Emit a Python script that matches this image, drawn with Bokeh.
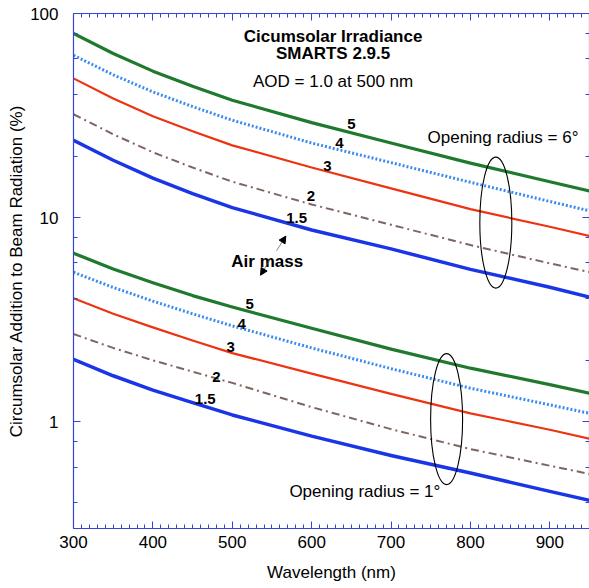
from bokeh.plotting import figure
from bokeh.models import (Range1d, LinearAxis, LogAxis, SingleIntervalTicker, LogTicker,
                          BasicTickFormatter, Label, Arrow, NormalHead)
from bokeh.embed import file_html
from bokeh.resources import INLINE

# ---------------- data ----------------
wavelength = [300, 350, 400, 450, 500, 600, 700, 800, 900, 950]

# Opening radius = 6 deg
r6_am5 = [79.8, 63.7, 52.2, 44.0, 37.6, 29.2, 23.2, 18.5, 15.0, 13.5]
r6_am4 = [62.4, 50.1, 41.3, 35.0, 30.0, 23.2, 18.6, 14.9, 12.0, 10.8]
r6_am3 = [48.1, 38.3, 31.4, 26.5, 22.6, 17.6, 13.9, 11.0, 9.02, 8.12]
r6_am2 = [32.1, 25.6, 20.9, 17.6, 15.0, 11.6, 9.23, 7.34, 5.97, 5.41]
r6_am15 = [23.9, 19.1, 15.6, 13.1, 11.2, 8.7, 7.03, 5.58, 4.56, 4.08]

# Opening radius = 1 deg
r1_am5 = [6.7, 5.6, 4.8, 4.15, 3.65, 2.87, 2.27, 1.83, 1.52, 1.38]
r1_am4 = [5.4, 4.55, 3.9, 3.38, 2.95, 2.3, 1.82, 1.46, 1.21, 1.10]
r1_am3 = [4.03, 3.38, 2.9, 2.5, 2.17, 1.72, 1.37, 1.10, 0.914, 0.826]
r1_am2 = [2.69, 2.3, 2.0, 1.76, 1.55, 1.18, 0.92, 0.735, 0.609, 0.555]
r1_am15 = [2.02, 1.68, 1.43, 1.24, 1.08, 0.85, 0.684, 0.561, 0.456, 0.412]

# ---------------- figure ----------------
AX = "#3344dd"
FONT = "Liberation Sans"

p = figure(width=589, height=588, x_range=Range1d(300, 950), y_range=Range1d(0.3, 100),
           y_axis_type="log", output_backend="svg", toolbar_location=None,
           min_border_left=73, min_border_right=0, min_border_top=13, min_border_bottom=60,
           x_axis_location=None, y_axis_location=None)
p.grid.visible = False
p.outline_line_color = None
p.background_fill_color = "white"
p.border_fill_color = "white"


def style_axis(ax, labels=True):
    ax.axis_line_color = AX
    ax.major_tick_line_color = AX
    ax.minor_tick_line_color = AX
    ax.major_tick_in = 7
    ax.major_tick_out = 0
    ax.minor_tick_in = 4
    ax.minor_tick_out = 0
    ax.axis_line_width = 1.2
    if labels:
        ax.major_label_text_font = FONT
        ax.major_label_text_font_size = "17px"
        ax.major_label_text_color = "black"
        ax.axis_label_text_font = FONT
        ax.axis_label_text_font_size = "17px"
        ax.axis_label_text_font_style = "normal"
        ax.axis_label_text_color = "black"
    else:
        ax.major_label_text_font_size = "1px"
        ax.major_label_text_alpha = 0
        ax.major_label_standoff = 0


xb = LinearAxis(ticker=SingleIntervalTicker(interval=100, num_minor_ticks=10),
                axis_label="Wavelength (nm)")
style_axis(xb)
xb.major_label_standoff = 7
xb.axis_label_standoff = 12
p.add_layout(xb, "below")

xa = LinearAxis(ticker=SingleIntervalTicker(interval=100, num_minor_ticks=10))
style_axis(xa, labels=False)
p.add_layout(xa, "above")

yl = LogAxis(ticker=LogTicker(), formatter=BasicTickFormatter(),
             axis_label="Circumsolar Addition to Beam Radiation (%)")
style_axis(yl)
yl.major_label_standoff = 15
yl.axis_label_standoff = 1
p.add_layout(yl, "left")

yr = LogAxis(ticker=LogTicker())
style_axis(yr, labels=False)
p.add_layout(yr, "right")

series = [
    (r6_am5, "#1f7a2e", 3.2, "solid"),
    (r6_am4, "#3a8cf0", 3.0, "2 2"),
    (r6_am3, "#ee3311", 2.2, "solid"),
    (r6_am2, "#7d6660", 2.0, "8 4 2 4"),
    (r6_am15, "#1a35e6", 3.5, "solid"),
    (r1_am5, "#1f7a2e", 3.2, "solid"),
    (r1_am4, "#3a8cf0", 3.0, "2 2"),
    (r1_am3, "#ee3311", 2.2, "solid"),
    (r1_am2, "#7d6660", 2.0, "8 4 2 4"),
    (r1_am15, "#1a35e6", 3.5, "solid"),
]
for ys, c, w, d in series:
    p.line(wavelength, ys, line_color=c, line_width=w, line_dash=d, line_join="round")

# ellipses marking the two groups
p.ellipse(x=[832, 770], y=[9.45, 1.03], width=32, height=131,
          width_units="screen", height_units="screen",
          fill_color=None, line_color="black", line_width=1.1)


def lab(x, y, t, size="17px", bold=False):
    p.add_layout(Label(x=x, y=y, text=t, text_font=FONT, text_font_size=size,
                       text_font_style="bold" if bold else "normal",
                       text_align="center", text_baseline="middle", text_color="black"))


lab(627, 77.2, "Cicumsolar Irradiance", bold=True)
lab(627, 63.7, "SMARTS 2.9.5", bold=True)
lab(627, 46.5, "AOD = 1.0 at 500 nm")
lab(841, 24.8, "Opening radius = 6°")
lab(667, 0.457, "Opening radius = 1°")
lab(544, 6.08, "Air mass", bold=True)

for x, y, t in [(650, 28.6, "5"), (635, 23.1, "4"), (620, 17.9, "3"), (599, 12.7, "2"), (581, 10.0, "1.5"),
                (522, 3.78, "5"), (512, 3.00, "4"), (498, 2.33, "3"), (480, 1.665, "2"), (466, 1.29, "1.5")]:
    lab(x, y, t, size="15px", bold=True)

for (x0, y0, x1, y1) in [(555.7, 6.88, 567.5, 8.12), (547.4, 6.22, 535.6, 5.22)]:
    p.add_layout(Arrow(end=NormalHead(size=7, fill_color="black", line_color="black", line_width=1),
                       x_start=x0, y_start=y0, x_end=x1, y_end=y1,
                       line_color="#555555", line_width=0.7))

open("out.html", "w").write(file_html(p, INLINE))
